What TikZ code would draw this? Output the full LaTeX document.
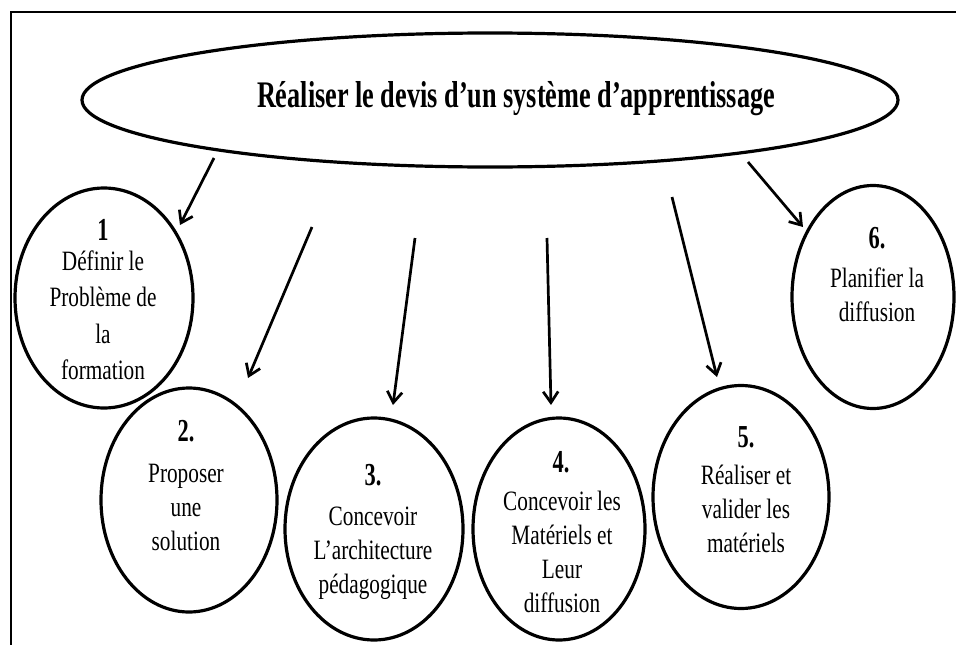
\documentclass[tikz,border=0pt]{standalone}
\usepackage{fontspec}
\setmainfont{Liberation Serif}
\newfontfamily\bodyfont[FakeStretch=0.76]{Liberation Serif}
\newfontfamily\headfont[FakeStretch=0.70]{Liberation Serif}
\usetikzlibrary{shapes.geometric,arrows.meta}

\tikzset{
  frame/.style={line width=2.4pt},
  bubble/.style={ellipse, draw, line width=3.2pt, inner sep=0pt},
  link/.style={line width=2.7pt,
    -{Straight Barb[length=11pt,width=15pt,line width=2.7pt]}},
  steptext/.style={anchor=base, inner sep=0pt,
    font=\bodyfont\fontsize{28}{34}\selectfont},
  steptextwide/.style={steptext, font=\bodyfont\fontsize{28}{36.5}\selectfont},
  stepnum/.style={anchor=base, inner sep=0pt,
    font=\headfont\bfseries\fontsize{32}{34}\selectfont},
  headline/.style={anchor=base, inner sep=0pt,
    font=\headfont\bfseries\fontsize{37.5}{40}\selectfont},
}
\newcommand{\lines}[1]{\begin{tabular}[t]{@{}c@{}}#1\end{tabular}}

\begin{document}
\begin{tikzpicture}[x=1pt,y=-1pt]
  \useasboundingbox (0,0) rectangle (956,645);

  % outer frame (top and left edges)
  \draw[frame] (11,645) -- (11,12) -- (956,12);

  % main goal
  \node[bubble, minimum width=816pt, minimum height=134pt] (goal) at (490,100) {};
  \node[headline] (goaltext) at (516,107)
    {Réaliser le devis d’un système d’apprentissage};

  % the six steps
  \node[bubble, minimum width=178pt, minimum height=220pt] (e1) at (104,298) {};
  \node[bubble, minimum width=176pt, minimum height=224pt] (e2) at (189,500) {};
  \node[bubble, minimum width=178pt, minimum height=222pt] (e3) at (374,529) {};
  \node[bubble, minimum width=172pt, minimum height=222pt] (e4) at (559,529) {};
  \node[bubble, minimum width=176pt, minimum height=223pt] (e5) at (741,497) {};
  \node[bubble, minimum width=162pt, minimum height=223pt] (e6) at (873,297) {};

  \node[stepnum] (n1) at (103,240) {1};
  \node[steptextwide] (t1) at (103,270)
    {\lines{Définir le\\ Problème de\\ la\\ formation}};

  \node[stepnum] (n2) at (186,441) {2.};
  \node[steptext] (t2) at (186,482)
    {\lines{Proposer\\ une\\ solution}};

  \node[stepnum] (n3) at (373,485) {3.};
  \node[steptext] (t3) at (373,525)
    {\lines{Concevoir\\ L’architecture\\ pédagogique}};

  \node[stepnum] (n4) at (561,472) {4.};
  \node[steptext] (t4) at (562,510)
    {\lines{Concevoir les\\ Matériels et\\ Leur\\ diffusion}};

  \node[stepnum] (n5) at (746,447) {5.};
  \node[steptext] (t5) at (746,484)
    {\lines{Réaliser et\\ valider les\\ matériels}};

  \node[stepnum] (n6) at (877,248) {6.};
  \node[steptext] (t6) at (877,287)
    {\lines{Planifier la\\ diffusion}};

  % arrow ends
  \coordinate (s1) at (214,158);  \coordinate (h1) at (180,225);
  \coordinate (s2) at (312,227);  \coordinate (h2) at (248,378);
  \coordinate (s3) at (415,238);  \coordinate (h3) at (393,405);
  \coordinate (s4) at (547,238);  \coordinate (h4) at (551,405);
  \coordinate (s5) at (672,197);  \coordinate (h5) at (717,377);
  \coordinate (s6) at (748,162);  \coordinate (h6) at (803,227);

  \foreach \i in {1,...,6} \draw[link] (s\i) -- (h\i);
\end{tikzpicture}
\end{document}
